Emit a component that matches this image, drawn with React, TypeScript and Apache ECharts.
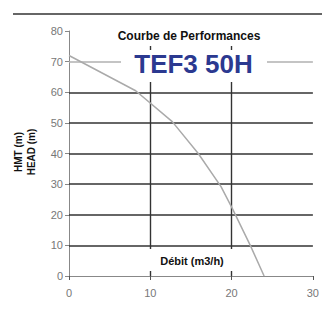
import React, { useEffect, useRef } from "react";
import * as echarts from "echarts";

const flowTicks = [0, 10, 20, 30];
const headTicks = [0, 10, 20, 30, 40, 50, 60, 70, 80];
const curveFlow = [0, 8.2, 12.7, 15.9, 18.7, 20.1, 22.3, 24];
const curveHead = [72, 60.5, 50.4, 40, 29.2, 22, 10, 0];
const darkGridHead = [10, 20, 30, 40, 50, 60];
const lightGridHead = [70];
const titleText = "Courbe de Performances";
const modelText = "TEF3 50H";
const xName = "Débit (m3/h)";
const yNames = ["HMT (m)", "HEAD (m)"];

const FONT = "'Liberation Sans', Arial, Helvetica, sans-serif";

export default function App() {
  const ref = useRef<HTMLDivElement>(null);
  useEffect(() => {
    if (!ref.current) return;
    const chart = echarts.init(ref.current, undefined, { renderer: "svg" });
    const data = curveFlow.map((x, i) => [x, curveHead[i]]);
    chart.setOption({
      animation: false,
      backgroundColor: "#ffffff",
      grid: { left: 69, right: 6, top: 31, bottom: 33, containLabel: false },
      xAxis: {
        type: "value",
        min: flowTicks[0],
        max: flowTicks[flowTicks.length - 1],
        interval: 10,
        axisLine: { show: true, lineStyle: { color: "#888", width: 1 } },
        axisTick: { show: true, length: 4, lineStyle: { color: "#555" } },
        axisLabel: { color: "#777", fontSize: 11, fontFamily: FONT, margin: 11 },
        splitLine: {
          show: true,
          showMinLine: false,
          showMaxLine: false,
          lineStyle: { color: "#333", width: 1.4 },
        },
      },
      yAxis: {
        type: "value",
        min: headTicks[0],
        max: headTicks[headTicks.length - 1],
        interval: 10,
        axisLine: { show: true, lineStyle: { color: "#888", width: 1 } },
        axisTick: { show: true, length: 4, lineStyle: { color: "#888" } },
        axisLabel: { color: "#777", fontSize: 11, fontFamily: FONT, margin: 6 },
        splitLine: { show: false },
      },
      series: [
        {
          type: "line",
          data,
          symbol: "none",
          lineStyle: { color: "#aaa", width: 1.5 },
          z: 3,
          markLine: {
            silent: true,
            symbol: "none",
            label: { show: false },
            lineStyle: { color: "#333333", width: 1.6, type: "solid" },
            data: darkGridHead.map((v) => ({ yAxis: v })),
            z: 2,
          },
        },
        {
          type: "line",
          data: [],
          markLine: {
            silent: true,
            symbol: "none",
            label: { show: false },
            lineStyle: { color: "#b0b0b0", width: 1.5, type: "solid" },
            data: lightGridHead.map((v) => ({ yAxis: v })),
            z: 2,
          },
        },
      ],
      graphic: [
        { type: "line", z: 20, shape: { x1: 13, y1: 14, x2: 322, y2: 14 }, style: { stroke: "#333", lineWidth: 1.5 } },
        { type: "rect", z: 20, shape: { x: 106, y: 28, width: 166, height: 18 }, style: { fill: "#fff" } },
        { type: "rect", z: 20, shape: { x: 121, y: 50, width: 146, height: 32 }, style: { fill: "#fff" } },
        { type: "rect", z: 20, shape: { x: 145, y: 249, width: 95, height: 22 }, style: { fill: "#fff" } },
        {
          type: "text", z: 21, x: 189, y: 36,
          style: { text: titleText, fill: "#111", font: `bold 12px ${FONT}`, align: "center", verticalAlign: "middle" },
        },
        {
          type: "text", z: 21, x: 193.5, y: 64,
          style: { text: modelText, fill: "#2b3990", font: `bold 26px ${FONT}`, align: "center", verticalAlign: "middle" },
        },
        {
          type: "text", z: 21, x: 192, y: 261,
          style: { text: xName, fill: "#111", font: `bold 11px ${FONT}`, align: "center", verticalAlign: "middle" },
        },
        {
          type: "text", z: 21, x: 18, y: 152, rotation: Math.PI / 2,
          style: { text: yNames[0], fill: "#111", font: `bold 10px ${FONT}`, align: "center", verticalAlign: "middle" },
        },
        {
          type: "text", z: 21, x: 31, y: 152, rotation: Math.PI / 2,
          style: { text: yNames[1], fill: "#111", font: `bold 10px ${FONT}`, align: "center", verticalAlign: "middle" },
        },
      ],
    });
    return () => chart.dispose();
  }, []);
  return (
    <div
      ref={ref}
      style={{ position: "fixed", left: 0, top: 0, width: 322, height: 309, background: "#fff" }}
    />
  );
}
